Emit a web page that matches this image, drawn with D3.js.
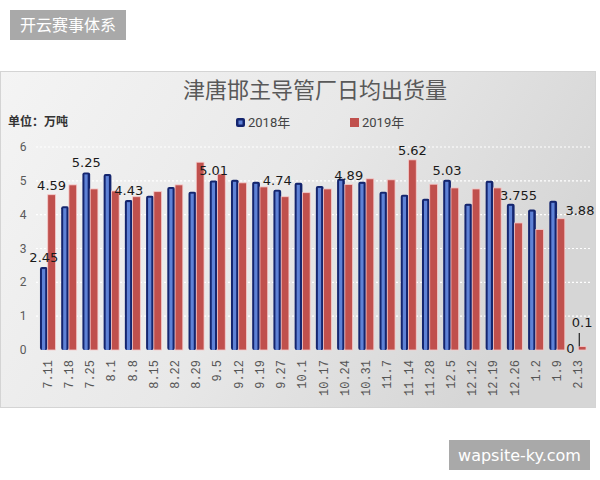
<!DOCTYPE html>
<html>
<head>
<meta charset="utf-8">
<script src="https://cdn.jsdelivr.net/npm/d3@7"></script>
<style>
body{margin:0;background:#fff;}
svg{display:block;}
</style>
</head>
<body>
<svg width="600" height="480"></svg>
<script>
var categories=['7.11','7.18','7.25','8.1','8.8','8.15','8.22','8.29','9.5','9.12','9.19','9.27','10.1','10.17','10.24','10.31','11.7','11.14','11.28','12.5','12.12','12.19','12.26','1.2','1.9','2.13'];
var values2018=[2.45,4.25,5.25,5.2,4.43,4.56,4.82,4.68,5.01,5.03,4.97,4.74,4.94,4.85,5.06,4.97,4.68,4.59,4.47,5.03,4.32,5.0,4.32,4.15,4.41,0];
var values2019=[4.59,4.88,4.76,4.7,4.53,4.68,4.88,5.55,5.2,4.94,4.82,4.53,4.65,4.76,4.89,5.06,5.03,5.62,4.9,4.79,4.76,4.79,3.755,3.56,3.88,0.1];
var seriesNames=['2018年','2019年'];
var yTicks=[0,1,2,3,4,5,6];
// which bars carry a value label: [series, index, text]
var labelList=[[0,0,'2.45'],[1,0,'4.59'],[0,2,'5.25'],[0,4,'4.43'],[0,8,'5.01'],[0,11,'4.74'],[1,14,'4.89'],[1,17,'5.62'],[0,19,'5.03'],[1,22,'3.755'],[1,24,'3.88'],[1,25,'0.1'],[0,25,'0']];

var svg=d3.select('svg');
var defs=svg.append('defs');

var grad=defs.append('linearGradient').attr('id','panelBg')
    .attr('x1','0').attr('y1','0').attr('x2','1').attr('y2','0.35');
grad.append('stop').attr('offset','0').attr('stop-color','#f4f4f4');
grad.append('stop').attr('offset','0.55').attr('stop-color','#e8e8e8');
grad.append('stop').attr('offset','1').attr('stop-color','#d6d6d6');

// chart panel
svg.append('rect')
    .attr('x',0.5).attr('y',71.5).attr('width',595).attr('height',336)
    .style('fill','url(#panelBg)').style('stroke','#d4d4d4');

var x=d3.scaleBand().domain(categories).range([37,589]).paddingInner(0.27).paddingOuter(0.14);
var x1=d3.scaleBand().domain([0,1]).range([0,x.bandwidth()]);
var y=d3.scaleLinear().domain([0,6]).range([350,147]);

// dotted grid
svg.append('g').selectAll('line').data(yTicks.slice(1)).enter().append('line')
    .attr('x1',36).attr('x2',590)
    .attr('y1',function(d){return y(d);}).attr('y2',function(d){return y(d);})
    .style('stroke','#ffffff').style('stroke-width',1.2).style('stroke-dasharray','2,2');

// y tick labels
svg.append('g').selectAll('text').data(yTicks).enter().append('text')
    .attr('x',23).attr('y',function(d){return y(d)+4;})
    .attr('text-anchor','middle')
    .style('font-family','Roboto, "DejaVu Sans", sans-serif').style('font-size','12px').style('fill','#5a5a5a')
    .text(function(d){return d;});

// x tick labels, rotated
svg.append('g').selectAll('text').data(categories).enter().append('text')
    .attr('transform',function(d){return 'translate('+(x(d)+x.bandwidth()/2+4)+',360) rotate(-90)';})
    .attr('text-anchor','end')
    .style('font-family','"Liberation Mono", "DejaVu Sans Mono", monospace').style('font-size','12px').style('fill','#555')
    .text(function(d){return d;});

function barTop(s,i){
    var v=s==0?values2018[i]:values2019[i];
    return y(v);
}

// 2018 bars: navy body with lighter stripe inside
var g18=svg.append('g');
g18.selectAll('rect.body').data(values2018).enter().append('rect')
    .attr('class','body')
    .attr('x',function(d,i){return x(categories[i])+x1(0);})
    .attr('y',function(d){return y(d);})
    .attr('width',x1.bandwidth())
    .attr('height',function(d){return y(0)-y(d);})
    .attr('rx',function(d){return d>0?2:0;})
    .style('fill','#14256e');
g18.selectAll('rect.shine').data(values2018).enter().append('rect')
    .attr('class','shine')
    .attr('x',function(d,i){return x(categories[i])+x1(0)+2;})
    .attr('y',function(d){return Math.min(y(d)+2,y(0));})
    .attr('width',Math.max(x1.bandwidth()-4.5,1))
    .attr('height',function(d){return Math.max(y(0)-y(d)-2,0);})
    .style('fill','#5f82d6');

// 2019 bars
svg.append('g').selectAll('rect').data(values2019).enter().append('rect')
    .attr('x',function(d,i){return x(categories[i])+x1(1);})
    .attr('y',function(d){return y(d);})
    .attr('width',x1.bandwidth())
    .attr('height',function(d){return y(0)-y(d);})
    .style('fill','#c0504d')
    .style('stroke','#f6caca').style('stroke-width',0.8);

// value labels
var lab=svg.append('g').style('font-family','"DejaVu Sans", sans-serif').style('font-size','13px').style('fill','#1a1a1a');
for(i=0;i<labelList.length;i++){
    var s=labelList[i][0], idx=labelList[i][1], txt=labelList[i][2];
    var cx=x(categories[idx])+x1(s)+x1.bandwidth()/2;
    var ty=barTop(s,idx)-5;
    var dx=0;
    if(idx==22){ty=barTop(0,idx)-4;}
    if(idx==24){dx=19;ty=barTop(s,idx)-4;}
    if(idx==25&&s==1){dx=0;ty=327;}
    if(idx==25&&s==0){dx=-4;ty=353;}
    lab.append('text').attr('x',cx+dx).attr('y',ty).attr('text-anchor','middle').text(txt);
}
// leader line for the 0.1 label
svg.append('line')
    .attr('x1',x(categories[25])+x1(1)+1).attr('x2',x(categories[25])+x1(1)+1)
    .attr('y1',333).attr('y2',y(values2019[25]))
    .style('stroke','#222').style('stroke-width',1.2);

// title
svg.append('text').attr('x',315).attr('y',98).attr('text-anchor','middle')
    .style('font-family','"Noto Sans CJK SC", sans-serif').style('font-size','22px').style('fill','#595959')
    .text('津唐邯主导管厂日均出货量');

svg.append('text').attr('x',8).attr('y',126)
    .style('font-family','"Noto Sans CJK SC", sans-serif').style('font-size','12px').style('font-weight','bold').style('fill','#333')
    .text('单位：万吨');

// legend
var legendX=[236,350];
var legendColor=['#14256e','#c0504d'];
for(i=0;i<2;i++){
    svg.append('rect').attr('x',legendX[i]).attr('y',118).attr('width',9).attr('height',9)
        .attr('rx',i==0?2:0).style('fill',legendColor[i]);
    if(i==0){
        svg.append('rect').attr('x',legendX[i]+2.5).attr('y',120.5).attr('width',4).attr('height',4).style('fill','#5f82d6');
    }
    svg.append('text').attr('x',legendX[i]+12).attr('y',127)
        .style('font-family','Roboto, "Noto Sans CJK SC", sans-serif').style('font-size','13px').style('fill','#444')
        .text(seriesNames[i]);
}

// watermark boxes
function drawTag(bx,by,bw,bh,txt,fam){
    svg.append('rect').attr('x',bx).attr('y',by).attr('width',bw).attr('height',bh).style('fill','#a9a9a9');
    svg.append('text').attr('x',bx+bw/2).attr('y',by+bh/2+5.5).attr('text-anchor','middle')
        .style('font-family',fam).style('font-size','16px').style('fill','#ffffff')
        .text(txt);
}
drawTag(10,10,116,30,'开云赛事体系','"Noto Sans CJK SC", sans-serif');
drawTag(449,440,141,30,'wapsite-ky.com','"DejaVu Sans", sans-serif');
</script>
</body>
</html>
